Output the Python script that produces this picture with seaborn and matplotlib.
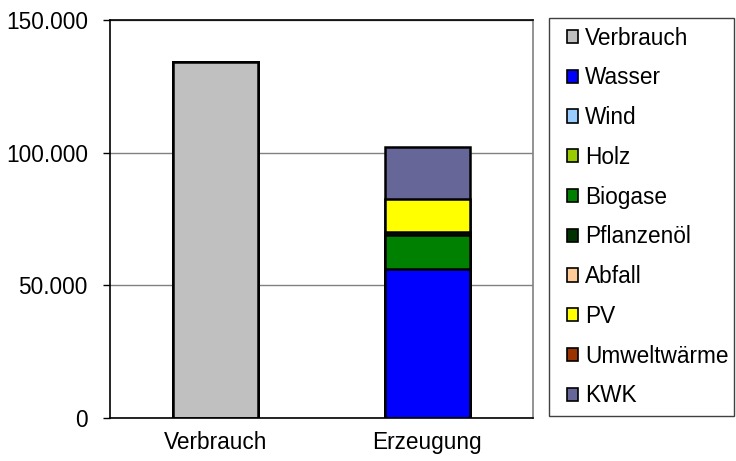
import matplotlib
matplotlib.use("Agg")
import matplotlib.pyplot as plt
import seaborn as sns
import numpy as np
import pandas as pd
from matplotlib.patches import Patch, Rectangle
from matplotlib.ticker import FuncFormatter

categories = ["Verbrauch", "Erzeugung"]
series = ["Verbrauch", "Wasser", "Wind", "Holz", "Biogase", "Pflanzenöl",
          "Abfall", "PV", "Umweltwärme", "KWK"]
verbrauch_vals = [134000, 0]
wasser_vals = [0, 56000]
wind_vals = [0, 0]
holz_vals = [0, 0]
biogase_vals = [0, 13000]
pflanzenoel_vals = [0, 1000]
abfall_vals = [0, 0]
pv_vals = [0, 12700]
umwelt_vals = [0, 0]
kwk_vals = [0, 19300]
colors = ["#C0C0C0", "#0000FF", "#99CCFF", "#99CC00", "#008000", "#003300",
          "#FFCC99", "#FFFF00", "#993300", "#666699"]

values = [verbrauch_vals, wasser_vals, wind_vals, holz_vals, biogase_vals,
          pflanzenoel_vals, abfall_vals, pv_vals, umwelt_vals, kwk_vals]

sns.set_theme(style="white")
plt.rcParams["font.family"] = ["Liberation Sans", "DejaVu Sans"]
plt.rcParams["text.color"] = "black"

FS = 16.3
W, H = 736, 461

fig = plt.figure(figsize=(W/100, H/100), dpi=100)
ax = fig.add_axes([110/W, (H-418)/H, (533-110)/W, (418-20)/H])

cum = np.cumsum(np.array(values, dtype=float), axis=0)
for i in range(len(series) - 1, -1, -1):
    if not (np.array(values[i]) > 0).any():
        continue
    df = pd.DataFrame({"cat": categories, "val": cum[i]})
    sns.barplot(data=df, x="cat", y="val", color=colors[i], saturation=1,
                edgecolor="black", linewidth=1.8, width=0.4, ax=ax,
                order=categories)

ax.set_xlim(-0.5, 1.5)
ax.set_ylim(0, 150000)
ax.set_yticks([0, 50000, 100000, 150000])
ax.yaxis.set_major_formatter(FuncFormatter(lambda v, _: f"{int(v):,}".replace(",", ".")))
ax.set_xticks([-0.5, 0.5, 1.5], minor=False)
ax.set_xticks([0, 1], minor=True)
ax.set_xticklabels(["", "", ""])
ax.set_xticklabels(categories, minor=True)
ax.tick_params(axis="x", which="minor", length=0, labelsize=FS, pad=9, labelcolor="black")
ax.tick_params(axis="x", which="major", length=5, width=1, direction="out", color="black")
ax.tick_params(axis="y", length=5, width=1, direction="out", labelsize=FS, pad=11,
               labelcolor="black", color="black", left=True)
ax.set_xlabel("")
ax.set_ylabel("")
ax.yaxis.grid(True, color="#808080", linewidth=1)
ax.set_axisbelow(True)
for s in ax.spines.values():
    s.set_visible(True)
    s.set_color("black")
    s.set_linewidth(1.2)
ax.spines["right"].set_color("#808080")

# legend frame
fig.patches.append(Rectangle((549/W, (H-416)/H), (734-549)/W, (416-18)/H,
                             transform=fig.transFigure, facecolor="white",
                             edgecolor="#404040", linewidth=1, zorder=0))

handles = [Patch(facecolor=c, edgecolor="black", linewidth=1.2, label=s) for s, c in zip(series, colors)]
leg = fig.legend(handles=handles, loc="upper left",
                 bbox_to_anchor=(562/W, 1 - 22/H), bbox_transform=fig.transFigure,
                 frameon=False, fontsize=FS, handlelength=0.52, handleheight=0.52,
                 handletextpad=0.3, labelspacing=0.74, borderpad=0.2, borderaxespad=0)
for t in leg.get_texts():
    t.set_color("black")

fig.savefig("out.png", dpi=100)
